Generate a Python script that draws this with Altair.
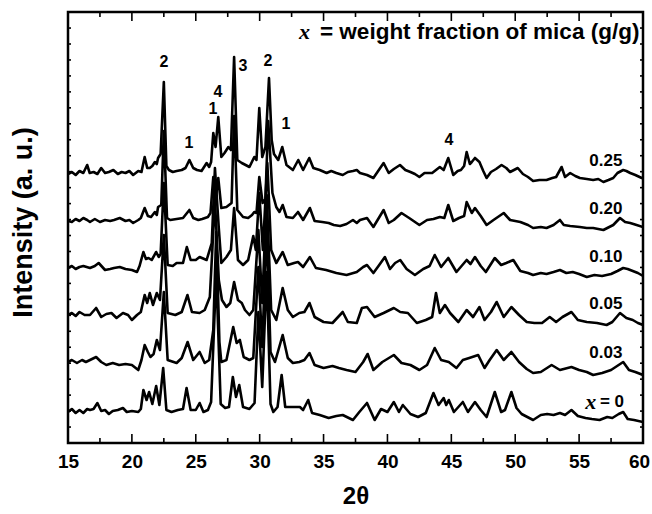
import altair as alt
import pandas as pd

# ---- XRD traces: (2theta, intensity above the trace's own baseline, a.u.) ----
s025 = [(15.0,0),(15.3,2),(15.6,-1),(15.9,3),(16.2,1),(16.5,9),(16.7,1),(17.0,2),(17.3,0),(17.6,6),(17.9,1),
        (18.2,2),(18.55,4),(18.9,0),(19.2,2),(19.5,1),(19.8,3),(20.1,-1),(20.5,3),(20.75,2),(21.0,17),(21.2,6),
        (21.4,6),(21.6,8),(21.8,12),(21.95,10),(22.05,16),(22.25,20),(22.5,92),(22.7,8),(22.9,4),(23.2,2),
        (23.5,3),(23.9,4),(24.2,6),(24.5,14),(24.8,6),(25.1,4),(25.45,3),(25.85,11),(26.05,7),(26.2,12),
        (26.37,41),(26.55,27),(26.76,57),(27.0,17),(27.25,21),(27.55,27),(27.75,24),(28.0,117),(28.25,14),
        (28.6,11),(28.9,9),(29.2,7),(29.58,17),(29.75,14),(29.97,66),(30.2,17),(30.45,27),(30.73,96),(30.94,34),
        (31.12,20),(31.45,14),(31.77,27),(32.1,9),(32.6,4),(33.02,14),(33.4,4),(33.88,16),(34.2,6),(34.7,4),
        (35.24,1),(35.6,3),(36.0,1),(36.5,-1),(36.9,2),(37.3,3),(37.6,4),(37.85,1),(38.4,-1),(38.9,-4),(39.7,11),
        (40.1,1),(40.5,5),(40.98,9),(41.4,4),(41.8,2),(42.15,0),(42.5,-3),(42.9,1),(43.5,1),(43.8,4),(44.1,7),
        (44.4,4),(44.76,16),(45.15,-1),(45.5,3),(45.75,4),(46.0,8),(46.2,22),(46.45,10),(46.6,12),(46.85,16),
        (47.2,12),(47.5,3),(47.76,-4),(48.1,2),(48.5,5),(48.93,9),(49.3,6),(49.6,2),(49.9,4),(50.2,6),(50.6,0),
        (51.0,-3),(51.4,-7),(51.9,-6),(52.45,-6),(52.9,-4),(53.2,-3),(53.63,7),(53.9,-3),(54.3,1),(54.7,-2),
        (55.06,-4),(55.6,-5),(56.1,-6),(56.5,-5),(56.9,-8),(57.3,-6),(57.67,-4),(58.0,1),(58.45,4),(58.7,3),
        (59.0,1),(59.4,-1),(59.9,-4),(60.0,-4)]

s020 = [(15.0,0),(15.3,-1),(15.6,2),(15.9,0),(16.2,3),(16.5,1),(16.72,-1),(17.1,2),(17.5,-1),(17.9,1),(18.3,0),
        (18.6,1),(19.05,3),(19.5,0),(19.8,1),(20.1,-2),(20.5,1),(20.7,3),(21.0,13),(21.25,5),(21.5,4),(21.8,9),
        (21.95,6),(22.05,14),(22.3,16),(22.5,90),(22.75,3),(23.0,1),(23.5,2),(24.0,3),(24.5,11),(24.8,3),(25.2,1),
        (25.5,2),(25.95,4),(26.15,8),(26.37,44),(26.55,21),(26.76,43),(27.0,13),(27.4,14),(27.8,18),(28.0,105),
        (28.25,11),(28.7,4),(29.1,3),(29.4,6),(29.58,9),(29.75,8),(29.97,44),(30.23,18),(30.45,22),(30.67,100),
        (31.0,28),(31.3,14),(31.55,9),(31.8,16),(32.1,4),(32.6,3),(33.0,9),(33.4,1),(33.93,13),(34.3,0),(34.9,-1),
        (35.4,-2),(35.8,-4),(36.3,-5),(36.8,-3),(37.3,1),(37.6,-2),(37.85,1),(38.4,3),(38.9,-6),(39.7,11),
        (40.1,-2),(40.5,1),(41.1,8),(41.7,3),(42.5,-4),(43.1,1),(43.6,2),(44.1,4),(44.45,3),(44.76,16),(45.15,0),
        (45.6,3),(46.0,5),(46.2,19),(46.6,8),(46.85,13),(47.3,5),(47.76,-4),(48.3,1),(49.1,8),(49.6,1),(50.4,-1),
        (51.0,-4),(51.4,-7),(52.0,-6),(52.45,-7),(53.0,-4),(53.5,1),(53.8,-4),(54.3,-5),(55.06,-6),(55.6,-7),
        (56.1,-7),(56.9,-9),(57.67,-4),(58.2,3),(58.6,-1),(59.0,-2),(59.5,-4),(60.0,-6)]

s010 = [(15.0,0),(15.3,2),(15.6,-1),(15.9,1),(16.2,2),(16.72,0),(17.1,2),(17.4,5),(17.9,-2),(18.3,-1),(18.6,0),
        (19.05,1),(19.5,-1),(20.0,-2),(20.4,-4),(20.6,2),(20.9,16),(21.1,9),(21.3,10),(21.55,8),(21.9,16),
        (22.1,11),(22.25,14),(22.5,85),(22.8,3),(23.2,2),(23.5,5),(24.0,5),(24.3,21),(24.6,8),(25.0,8),(25.3,11),
        (25.85,8),(26.25,25),(26.5,100),(26.8,40),(27.0,5),(27.4,11),(27.75,18),(28.0,60),(28.3,8),(28.7,3),
        (29.1,8),(29.5,32),(29.7,18),(29.97,75),(30.25,18),(30.6,105),(30.9,18),(31.3,5),(31.8,16),(32.2,3),
        (32.7,5),(33.0,6),(33.4,1),(33.93,11),(34.4,0),(35.2,-2),(36.0,-5),(36.8,-7),(37.6,-4),(38.1,1),(38.4,3),
        (38.9,-5),(39.3,2),(39.8,11),(40.2,-1),(40.6,5),(41.0,8),(41.5,-1),(42.15,-7),(42.8,-1),(43.3,2),(43.7,13),
        (44.2,1),(44.76,10),(45.4,-4),(45.8,2),(46.2,8),(46.5,4),(46.85,11),(47.3,2),(47.7,-4),(48.4,10),(48.9,3),
        (49.3,5),(49.85,8),(50.4,-3),(51.0,-5),(51.4,-7),(52.0,-5),(52.45,-6),(53.0,-4),(53.5,-2),(54.0,-5),
        (54.5,-4),(55.0,-6),(55.6,-9),(56.2,-7),(56.8,-8),(57.5,-6),(58.0,-3),(58.45,0),(58.8,-1),(59.2,-3),
        (59.6,-5),(60.0,-8)]

s005 = [(15.0,0),(15.3,2),(15.6,-1),(15.9,3),(16.3,0),(16.72,0),(17.2,7),(17.6,-2),(18.0,1),(18.4,2),(18.8,-3),
        (19.3,2),(19.7,0),(20.0,-5),(20.4,0),(20.7,3),(21.0,20),(21.2,12),(21.4,22),(21.65,10),(21.95,22),
        (22.2,15),(22.5,80),(22.8,2),(23.4,0),(23.9,3),(24.35,20),(24.7,3),(25.3,2),(25.7,5),(26.1,18),(26.5,115),
        (26.8,35),(27.05,15),(27.4,8),(27.7,12),(28.0,33),(28.3,15),(28.6,12),(28.85,5),(29.2,0),(29.5,5),
        (29.9,85),(30.2,12),(30.55,120),(30.9,5),(31.3,-5),(31.8,27),(32.2,5),(32.6,-2),(33.1,2),(33.5,3),
        (33.9,12),(34.3,-2),(35.0,-7),(35.7,-8),(36.5,3),(36.9,-7),(37.6,-8),(38.0,7),(38.4,8),(38.7,3),(39.0,-2),
        (39.7,2),(40.5,7),(41.0,3),(41.6,2),(42.3,-8),(43.0,-5),(43.5,-2),(43.8,22),(44.1,2),(44.5,10),(44.9,2),
        (45.55,-7),(46.2,5),(46.7,-2),(47.2,8),(47.6,-5),(48.1,3),(48.55,13),(49.1,-2),(49.7,8),(50.3,0),
        (50.9,-7),(51.5,-8),(52.1,-8),(52.7,-2),(53.2,-7),(53.7,-2),(54.4,3),(54.9,-5),(55.6,-7),(56.4,-8),
        (57.15,-10),(57.6,-7),(58.2,2),(58.7,-3),(59.2,-5),(59.6,-8),(60.0,-10)]

s003 = [(15.0,0),(15.3,2),(15.7,-1),(16.1,2),(16.4,0),(16.72,2),(17.2,5),(17.6,0),(18.0,-3),(18.5,-1),(19.0,-3),
        (19.5,-2),(20.0,-3),(20.5,-8),(20.75,2),(21.0,17),(21.25,10),(21.45,5),(21.7,8),(21.95,22),(22.2,12),
        (22.5,70),(22.8,2),(23.5,-1),(23.9,4),(24.36,20),(24.8,2),(25.3,10),(25.7,-1),(26.05,2),(26.37,32),
        (26.6,130),(26.85,20),(27.0,0),(27.4,2),(27.93,35),(28.2,19),(28.45,22),(28.75,5),(29.2,2),(29.5,4),
        (29.9,95),(30.2,15),(30.55,135),(30.85,10),(31.2,0),(31.8,27),(32.2,4),(32.6,-1),(33.1,0),(33.5,2),
        (33.9,9),(34.3,-3),(35.0,-6),(35.7,-4),(36.2,-6),(36.8,-8),(37.5,-10),(38.1,0),(38.45,8),(38.9,-8),
        (39.6,0),(40.5,7),(41.1,-1),(41.8,-3),(42.5,-8),(43.1,-3),(43.7,14),(44.2,2),(44.8,0),(45.4,-6),(45.9,2),
        (46.4,4),(47.1,7),(47.6,-6),(48.0,2),(48.55,12),(49.1,2),(49.7,10),(50.3,0),(50.9,-7),(51.4,-11),
        (52.0,-10),(52.85,-3),(53.5,-8),(54.4,-5),(55.0,-8),(55.6,-10),(56.1,-13),(56.8,-11),(57.5,-8),
        (58.45,0),(58.9,-8),(59.4,-10),(60.0,-13)]

s000 = [(15.0,0),(15.3,3),(15.6,-1),(15.9,2),(16.2,-1),(16.5,3),(16.72,2),(17.0,3),(17.3,9),(17.6,1),(17.9,2),
        (18.2,-2),(18.5,1),(18.9,2),(19.3,4),(19.6,0),(20.0,1),(20.5,0),(20.7,3),(20.9,22),(21.15,12),(21.35,20),
        (21.6,8),(21.9,26),(22.15,7),(22.45,44),(22.7,2),(23.1,0),(23.6,2),(24.0,3),(24.28,24),(24.6,2),(25.0,2),
        (25.3,9),(25.6,0),(25.95,2),(26.2,10),(26.6,140),(26.95,8),(27.3,4),(27.6,5),(27.9,35),(28.15,15),
        (28.4,27),(28.7,5),(29.2,3),(29.6,9),(29.9,100),(30.2,25),(30.55,140),(30.85,8),(31.07,0),(31.4,5),
        (31.72,37),(32.0,5),(32.5,5),(33.15,5),(33.4,2),(33.8,12),(34.1,-1),(34.7,-3),(35.4,-6),(36.0,-4),
        (36.5,-3),(37.3,-8),(37.8,0),(38.4,9),(39.0,-8),(39.5,3),(40.0,0),(40.5,10),(40.9,0),(41.2,7),(41.8,-2),
        (42.4,-5),(43.0,-1),(43.6,19),(44.0,7),(44.4,14),(44.6,7),(44.8,12),(45.2,0),(45.9,10),(46.3,0),
        (46.85,10),(47.3,2),(47.76,-5),(48.4,20),(48.9,0),(49.2,2),(49.7,20),(50.1,4),(50.5,-2),(51.4,-8),
        (52.0,-3),(52.5,-2),(53.0,-3),(53.5,-1),(53.9,-3),(54.4,2),(54.9,-4),(55.5,-6),(56.0,-7),(56.6,-8),
        (57.2,-5),(57.6,-6),(58.1,-2),(58.45,0),(58.8,-7),(59.3,-8),(60.0,-10)]

series_names = ["0.25", "0.20", "0.10", "0.05", "0.03", "0"]
series_data = [s025, s020, s010, s005, s003, s000]
series_offsets = [269, 222, 175, 128, 81, 31]   # vertical stacking of the patterns

# trace labels (right end of each pattern)
trace_labels = ["0.25", "0.20", "0.10", "0.05", "0.03"]
trace_label_y = [282, 234, 186, 139, 90]

# phase peak labels
peak_labels = ["2", "1", "4", "1", "3", "2", "1", "4"]
peak_x = [22.51, 24.47, 26.74, 26.35, 28.69, 30.65, 32.06, 44.81]
peak_y = [381, 300, 351, 334, 377, 382, 319, 303]

x_ticks = [15, 20, 25, 30, 35, 40, 45, 50, 55, 60]
x_minor = [17.5, 22.5, 27.5, 32.5, 37.5, 42.5, 47.5, 52.5, 57.5]

# ---------------------------------------------------------------------------
rows = []
for name, pts, off in zip(series_names, series_data, series_offsets):
    for t, v in pts:
        rows.append({"x": t, "y": v + off, "series": name})
df = pd.DataFrame(rows)

W, H = 575, 431
XMIN, XMAX = 15, 60
YMAX = 431
px_per_x = W / (XMAX - XMIN)

xs = alt.Scale(domain=[XMIN, XMAX], nice=False, zero=False)
ys = alt.Scale(domain=[0, YMAX], nice=False, zero=False)

FONT = "Liberation Sans"

x_axis = alt.Axis(values=x_ticks, title="2θ", ticks=False, domain=False, grid=False,
                  labelFont=FONT, labelFontWeight="bold", labelFontSize=19, labelColor="black",
                  labelPadding=9, labelFlush=False,
                  labelOffset={"condition": {"test": "datum.value == 60", "value": -4}, "value": 0},
                  titleFont=FONT, titleFontWeight="bold", titleFontSize=24,
                  titleColor="black", titleY=53, titleBaseline="middle")
y_axis = alt.Axis(title="Intensity (a. u.)", labels=False, ticks=False, domain=False, grid=False,
                  titleFont=FONT, titleFontWeight="bold", titleFontSize=27, titleColor="black",
                  titleAngle=270, titleX=-45, titleY=210, titleAlign="center",
                  titleBaseline="middle")

X = alt.X("x:Q", scale=xs, axis=x_axis, title="2θ")
Y = alt.Y("y:Q", scale=ys, axis=y_axis, title="Intensity (a. u.)")

lines = alt.Chart(df).mark_line(color="black", strokeWidth=2.6, strokeJoin="round", clip=True).encode(
    x=X, y=Y, detail="series:N",
)

# inward tick marks on all four sides
trows = []
for t in x_ticks:
    trows.append({"x": t, "x2": t, "y": 0, "y2": 9})
    trows.append({"x": t, "x2": t, "y": YMAX - 9, "y2": YMAX})
for t in x_minor:
    trows.append({"x": t, "x2": t, "y": 0, "y2": 5})
    trows.append({"x": t, "x2": t, "y": YMAX - 5, "y2": YMAX})
k = 1
while k * 15.96 < YMAX - 4:
    yy = k * 15.96
    trows.append({"x": XMIN, "x2": XMIN + 3 / px_per_x, "y": yy, "y2": yy})
    trows.append({"x": XMAX - 3 / px_per_x, "x2": XMAX, "y": yy, "y2": yy})
    k += 1
tick_df = pd.DataFrame(trows)
ticks = alt.Chart(tick_df).mark_rule(color="black", strokeWidth=1.6).encode(
    x=X, x2=alt.X2("x2:Q", title="2θ"), y=Y, y2=alt.Y2("y2:Q", title="Intensity (a. u.)"),
)

peak_df = pd.DataFrame({"x": peak_x, "y": peak_y, "label": peak_labels})
peaks = alt.Chart(peak_df).mark_text(font=FONT, fontWeight="bold", fontSize=16, color="black",
                                     baseline="middle", align="center").encode(
    x=X, y=Y, text="label:N")

tl_df = pd.DataFrame({"x": [58.39] * len(trace_labels), "y": trace_label_y, "label": trace_labels})
tlabels = alt.Chart(tl_df).mark_text(font=FONT, fontWeight="bold", fontSize=17, color="black",
                                     baseline="middle", align="right").encode(
    x=X, y=Y, text="label:N")

# "x" in italic serif, remaining text bold sans
xi_df = pd.DataFrame({"x": [33.5, 55.92], "y": [411, 41], "label": ["x", "x"]})
xital = alt.Chart(xi_df).mark_text(font="Liberation Serif", fontStyle="italic", fontWeight="bold",
                                   fontSize=22, color="black", baseline="middle", align="center").encode(
    x=X, y=Y, text="label:N")

rest1_df = pd.DataFrame({"x": [34.72], "y": [411], "label": ["= weight fraction of mica (g/g)"]})
rest1 = alt.Chart(rest1_df).mark_text(font=FONT, fontWeight="bold", fontSize=22.5, color="black",
                                      baseline="middle", align="left").encode(
    x=X, y=Y, text="label:N")
rest2_df = pd.DataFrame({"x": [56.63], "y": [41], "label": ["= 0"]})
rest2 = alt.Chart(rest2_df).mark_text(font=FONT, fontWeight="bold", fontSize=17, color="black",
                                      baseline="middle", align="left").encode(
    x=X, y=Y, text="label:N")

chart = alt.layer(lines, ticks, peaks, tlabels, xital, rest1, rest2).properties(
    width=W, height=H,
    autosize=alt.AutoSizeParams(type="none"),
    padding={"left": 68, "top": 12, "right": 9, "bottom": 71},
    background="white",
).configure_view(stroke="black", strokeWidth=2.5)

chart.save("out.html", embed_options={"renderer": "svg", "actions": False})
